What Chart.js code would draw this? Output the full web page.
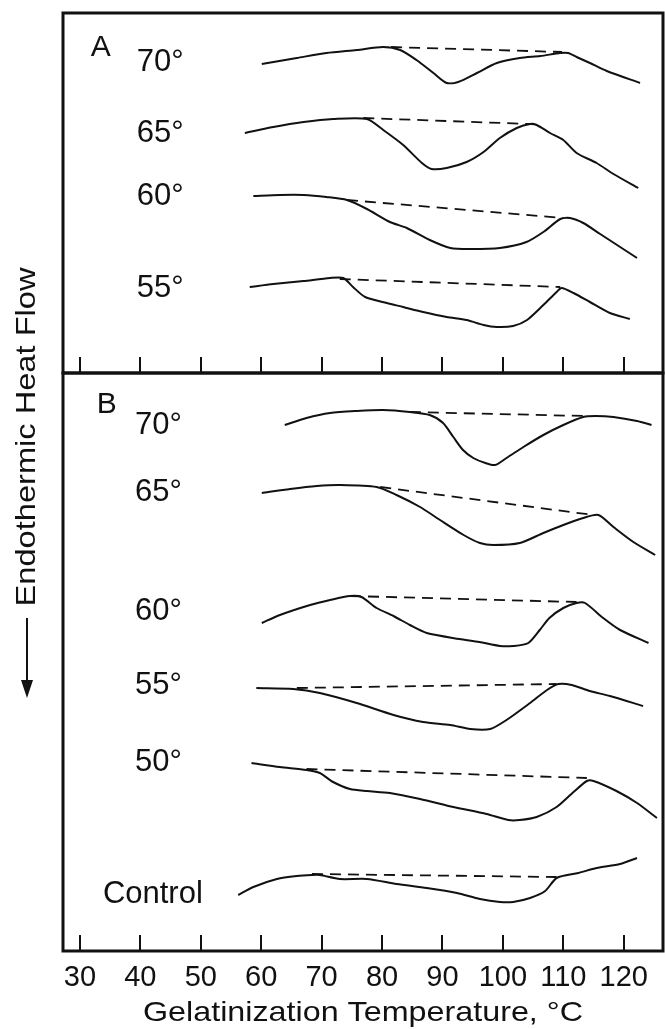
<!DOCTYPE html>
<html>
<head>
<meta charset="utf-8">
<script src="https://cdn.jsdelivr.net/npm/chart.js@4.4.1/dist/chart.umd.min.js"></script>
<style>
  html, body { margin: 0; padding: 0; background: #fff; }
  #wrap { position: relative; width: 665px; height: 1029px; }
  canvas { position: absolute; left: 0; top: 0; }
</style>
</head>
<body>
<div id="wrap">
  <canvas id="chartB" width="665" height="1029"></canvas>
  <canvas id="chartA" width="665" height="1029"></canvas>
</div>
<script>
// x axis: gelatinization temperature (°C)
const xTicks = [30, 40, 50, 60, 70, 80, 90, 100, 110, 120];
const xTitle = 'Gelatinization Temperature, °C';
const yTitle = 'Endothermic Heat Flow';

// panel A thermograms  [temperature, heat flow (arb. units)]
const a70 = [[60.1, 30.9], [65.9, 31.5], [70.8, 32.0], [75.8, 32.3], [80.2, 32.6], [83.0, 32.3], [85.7, 31.3],
  [88.5, 30.0], [90.7, 29.0], [92.6, 29.1], [95.7, 30.0], [99.0, 31.0], [102.8, 31.5], [106.2, 31.7],
  [109.5, 32.0], [110.8, 32.0], [112.2, 31.6], [114.4, 31.0], [117.2, 30.2], [122.7, 29.0]];
const a70Base = [[81.5, 32.6], [109.8, 32.1]];

const a65 = [[57.3, 24.0], [62.0, 24.6], [67.0, 25.1], [71.9, 25.4], [77.5, 25.4], [80.2, 24.3], [83.5, 22.8],
  [86.6, 21.0], [88.2, 20.4], [90.7, 20.5], [94.0, 21.1], [96.8, 22.1], [99.5, 23.5], [102.3, 24.5],
  [104.5, 24.9], [105.6, 24.8], [107.8, 24.0], [110.0, 23.3], [112.2, 22.0], [115.5, 21.0], [118.3, 19.9], [122.4, 18.5]];
const a65Base = [[76.9, 25.5], [104.5, 24.9]];

const a60 = [[58.7, 17.7], [63.1, 17.8], [67.0, 17.8], [70.8, 17.6], [74.2, 17.3], [77.5, 16.4], [81.3, 15.1],
  [84.1, 14.5], [87.9, 13.3], [91.3, 12.5], [94.6, 12.4], [99.5, 12.5], [103.9, 13.1], [106.7, 14.1],
  [109.5, 15.4], [111.1, 15.5], [113.3, 15.0], [116.1, 13.9], [118.9, 12.8], [122.2, 11.5]];
const a60Base = [[74.2, 17.3], [110.0, 15.5]];

const a55 = [[58.1, 8.6], [62.0, 8.9], [67.0, 9.2], [71.4, 9.5], [73.6, 9.5], [75.2, 8.6], [77.2, 7.6],
  [80.8, 7.0], [83.5, 6.6], [86.8, 6.1], [90.7, 5.6], [94.0, 5.3], [96.8, 4.8], [99.0, 4.6], [101.7, 4.7],
  [104.0, 5.3], [106.7, 6.8], [108.9, 8.1], [109.7, 8.5], [111.7, 8.0], [114.4, 7.1], [117.7, 6.0], [121.0, 5.4]];
const a55Base = [[73.0, 9.4], [109.5, 8.6]];

// panel B thermograms
const b70 = [[63.9, 52.6], [67.5, 53.3], [71.4, 53.8], [75.8, 54.0], [80.2, 54.1], [84.6, 53.9], [87.9, 53.6],
  [90.1, 52.8], [91.8, 51.4], [93.4, 50.1], [95.1, 49.3], [97.1, 48.8], [98.7, 48.6], [100.6, 49.3],
  [103.4, 50.4], [106.7, 51.6], [110.0, 52.6], [113.3, 53.4], [115.3, 53.5], [118.3, 53.4], [122.2, 53.0], [124.6, 52.6]];
const b70Base = [[84.6, 53.9], [113.6, 53.5]];

const b65 = [[60.1, 45.8], [64.8, 46.2], [69.2, 46.5], [73.0, 46.6], [79.1, 46.4], [82.4, 45.6], [86.3, 44.4],
  [89.6, 43.1], [93.5, 41.6], [96.2, 40.8], [98.4, 40.6], [102.8, 40.8], [106.7, 41.8], [110.0, 42.6],
  [113.3, 43.3], [115.8, 43.6], [118.3, 42.4], [121.6, 40.9], [125.2, 39.6]];
const b65Base = [[79.7, 46.4], [115.0, 43.6]];

const b60 = [[60.1, 32.8], [63.1, 33.6], [68.1, 34.6], [71.4, 35.1], [74.7, 35.5], [76.6, 35.4], [79.1, 34.3],
  [81.9, 33.5], [84.6, 32.6], [87.4, 31.8], [92.8, 31.2], [96.1, 30.9], [99.5, 30.5], [101.7, 30.5],
  [104.2, 30.8], [106.1, 32.1], [107.7, 33.3], [110.0, 34.3], [112.2, 34.8], [113.6, 34.8], [116.6, 33.3],
  [119.4, 32.1], [124.1, 30.8]];
const b60Base = [[74.7, 35.5], [112.2, 34.9]];

const b55 = [[59.2, 26.3], [65.3, 26.2], [69.7, 25.8], [75.8, 24.8], [81.9, 23.6], [86.8, 22.9], [91.3, 22.6],
  [94.6, 22.2], [97.9, 22.2], [100.6, 23.1], [104.5, 24.8], [107.3, 26.1], [109.2, 26.7], [111.4, 26.6],
  [114.4, 26.0], [117.7, 25.5], [123.2, 24.5]];
const b55Base = [[65.9, 26.3], [108.9, 26.7]];

const b50 = [[58.4, 18.8], [63.1, 18.4], [67.5, 18.1], [69.7, 17.8], [71.9, 16.9], [74.7, 16.2], [77.5, 16.0],
  [81.3, 15.8], [86.3, 15.2], [91.8, 14.4], [97.3, 13.7], [100.9, 13.1], [102.8, 13.1], [105.6, 13.4],
  [108.9, 14.4], [111.7, 15.9], [113.9, 17.0], [115.0, 17.0], [118.8, 16.0], [122.2, 14.8], [125.5, 13.3]];
const b50Base = [[67.5, 18.2], [113.9, 17.3]];

const bControl = [[56.2, 5.6], [58.7, 6.4], [62.6, 7.2], [65.9, 7.5], [68.4, 7.6], [69.7, 7.6], [73.0, 7.2],
  [77.5, 7.2], [82.4, 6.7], [87.4, 6.3], [92.4, 5.8], [96.2, 5.2], [99.5, 4.9], [101.7, 4.9], [104.5, 5.3],
  [107.0, 6.0], [108.9, 7.3], [112.5, 7.8], [115.5, 8.3], [119.4, 8.7], [122.2, 9.3]];
const bControlBase = [[68.4, 7.7], [108.9, 7.4]];

const INK = '#111';
const FONT = '"Liberation Sans", Arial, sans-serif';

function curve(name, pts) {
  return {
    label: name,
    data: pts.map(p => ({ x: p[0], y: p[1] })),
    borderColor: INK, borderWidth: 2, pointRadius: 0, tension: 0.25, fill: false
  };
}
function baseline(name, pts) {
  return {
    label: name + ' baseline',
    data: pts.map(p => ({ x: p[0], y: p[1] })),
    borderColor: INK, borderWidth: 1.8, borderDash: [11, 7], pointRadius: 0, fill: false
  };
}

// fits a string into a given width (the original lettering is wide)
function fitText(ctx, text, cx, cy, width) {
  const w = ctx.measureText(text).width;
  ctx.save();
  ctx.translate(cx, cy);
  ctx.scale(width / w, 1);
  ctx.textAlign = 'center';
  ctx.textBaseline = 'middle';
  ctx.fillText(text, 0, 0);
  ctx.restore();
}

const panelDecor = {
  id: 'panelDecor',
  afterDatasetsDraw(chart, args, opts) {
    const { ctx, chartArea: a, scales: { x, y } } = chart;
    ctx.save();
    ctx.strokeStyle = INK;
    ctx.fillStyle = INK;

    // panel box
    ctx.lineWidth = 3;
    ctx.strokeRect(a.left, a.top, a.right - a.left, a.bottom - a.top);

    // inward ticks on the bottom edge
    ctx.lineWidth = 2;
    xTicks.forEach(t => {
      const px = Math.round(x.getPixelForValue(t));
      ctx.beginPath();
      ctx.moveTo(px, a.bottom);
      ctx.lineTo(px, a.bottom - 16);
      ctx.stroke();
    });

    // panel letter
    ctx.font = `30px ${FONT}`;
    ctx.textAlign = 'left';
    ctx.textBaseline = 'middle';
    ctx.fillText(opts.letter[0], x.getPixelForValue(opts.letter[1]), y.getPixelForValue(opts.letter[2]));

    // curve labels
    ctx.font = `31px ${FONT}`;
    opts.labels.forEach(l => ctx.fillText(l[0], x.getPixelForValue(l[1]), y.getPixelForValue(l[2])));

    if (opts.axisText) {
      ctx.font = `29px ${FONT}`;
      ctx.textAlign = 'center';
      xTicks.forEach(t => ctx.fillText(String(t), x.getPixelForValue(t), a.bottom + 27));
      ctx.font = `28px ${FONT}`;
      fitText(ctx, xTitle, 363, a.bottom + 62, 440);

      // y title with arrow, spanning both panels
      ctx.save();
      ctx.translate(27, 437);
      ctx.rotate(-Math.PI / 2);
      ctx.font = `28px ${FONT}`;
      fitText(ctx, yTitle, 0, 0, 339);
      ctx.restore();
      ctx.lineWidth = 2;
      ctx.beginPath();
      ctx.moveTo(27, 618);
      ctx.lineTo(27, 688);
      ctx.stroke();
      ctx.beginPath();
      ctx.moveTo(21, 680);
      ctx.lineTo(33, 680);
      ctx.lineTo(27, 698);
      ctx.closePath();
      ctx.fill();
    }
    ctx.restore();
  }
};

function makeChart(id, datasets, yMax, padding, decor) {
  return new Chart(document.getElementById(id), {
    type: 'line',
    data: { datasets },
    options: {
      responsive: false,
      animation: false,
      events: [],
      layout: { padding },
      plugins: { legend: { display: false }, tooltip: { enabled: false }, panelDecor: decor },
      scales: {
        x: { type: 'linear', min: 27.2, max: 126.5, display: false },
        y: { type: 'linear', min: 0, max: yMax, display: false }
      }
    },
    plugins: [panelDecor]
  });
}

makeChart('chartA', [
  curve('A 70°', a70), baseline('A 70°', a70Base),
  curve('A 65°', a65), baseline('A 65°', a65Base),
  curve('A 60°', a60), baseline('A 60°', a60Base),
  curve('A 55°', a55), baseline('A 55°', a55Base)
], 36, { left: 63, right: 2, top: 13, bottom: 656 }, {
  letter: ['A', 31.8, 32.5],
  labels: [['70°', 39.4, 31.1], ['65°', 39.4, 24.0], ['60°', 39.4, 17.7], ['55°', 39.4, 8.5]],
  axisText: false
});

makeChart('chartB', [
  curve('B 70°', b70), baseline('B 70°', b70Base),
  curve('B 65°', b65), baseline('B 65°', b65Base),
  curve('B 60°', b60), baseline('B 60°', b60Base),
  curve('B 55°', b55), baseline('B 55°', b55Base),
  curve('B 50°', b50), baseline('B 50°', b50Base),
  curve('Control', bControl), baseline('Control', bControlBase)
], 57.8, { left: 63, right: 2, top: 373, bottom: 78 }, {
  letter: ['B', 32.8, 54.6],
  labels: [['70°', 39.1, 52.6], ['65°', 39.1, 45.9], ['60°', 39.1, 34.0], ['55°', 39.1, 26.6],
    ['50°', 39.1, 18.9], ['Control', 33.8, 5.7]],
  axisText: true
});
</script>
</body>
</html>
